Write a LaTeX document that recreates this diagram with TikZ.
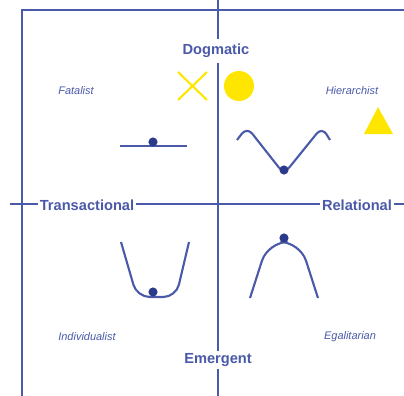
\documentclass[tikz,border=0pt]{standalone}
\usepackage{fontspec}
\setmainfont{Liberation Sans}
\usetikzlibrary{positioning}
\definecolor{cblue}{HTML}{4A5AA8}
\definecolor{cdot}{HTML}{2B3A8A}
\definecolor{cyellow}{HTML}{FFE600}
\tikzset{
  every picture/.style={line width=1.5pt},
  axis/.style={draw=cblue},
  pole/.style={font=\bfseries\fontsize{10.4}{12}\selectfont, text=cblue, fill=white, inner sep=1.5pt},
  type/.style={font=\itshape\fontsize{7.8}{9}\selectfont, text=cblue},
  well/.style={draw=cblue, rounded corners=#1},
  well/.default=4pt,
  ball/.style={circle, fill=cdot, inner sep=0pt, minimum size=6.5pt},
  sign/.style={draw=cyellow, fill=cyellow},
}

\begin{document}
\begin{tikzpicture}[x=0.025cm, y=-0.025cm]
  \useasboundingbox (0,0) rectangle (404,396);
  % frame and axes
  \coordinate (top) at (218,0); \coordinate (bot) at (218,396);
  \coordinate (west) at (10,204); \coordinate (east) at (404,204);
  \coordinate (sw) at (22,396); \coordinate (nw) at (22,10); \coordinate (ne) at (404,10);
  \draw[axis] (top) -- (bot);
  \draw[axis] (west) -- (east);
  \draw[axis] (sw) -- (nw) -- (ne);
  \node[pole, inner ysep=4pt] (dog) at (216,51) {Dogmatic};
  \node[pole] (emg) at (218,360) {Emergent};
  \node[pole] (trs) at (87,205) {Transactional};
  \node[pole] (rel) at (357,205) {Relational};
  % quadrant types
  \node[type] (fat) at (76,91) {Fatalist};
  \node[type] (hie) at (352,91) {Hierarchist};
  \node[type] (ind) at (87,337) {Individualist};
  \node[type] (ega) at (350,337) {Egalitarian};
  % landscapes
  \draw[well] (120,146) -- (187,146);
  \node[ball] (bfat) at (153,142) {};
  \draw[well=6pt] (237,140) -- (247,127) -- (284,174) -- (322,127) -- (330,140);
  \node[ball] (bhie) at (284,170) {};
  \draw[well=9pt] (121,242) -- (137,297) -- (176,297) -- (189,242);
  \node[ball] (bind) at (153,292) {};
  \draw[well=14pt] (250,298) -- (268,242) -- (300,242) -- (318,298);
  \node[ball] (bega) at (284,238) {};
  % yellow markers
  \draw[cyellow] (178,72) -- (207,100) (178,100) -- (207,72);
  \node[circle, fill=cyellow, inner sep=0pt, minimum size=0.75cm] (sun) at (239,86) {};
  \fill[cyellow] (364,134) -- (378,107) -- (393,134) -- cycle;
\end{tikzpicture}
\end{document}
